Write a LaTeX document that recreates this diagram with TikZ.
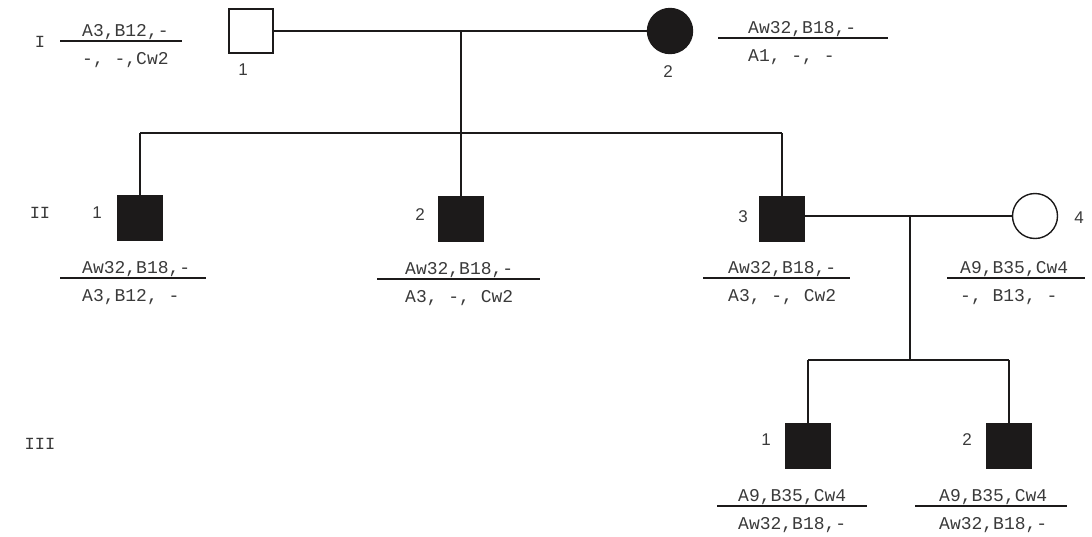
\documentclass[tikz,border=0pt]{standalone}
\usepackage{fontspec}
\setmonofont{Liberation Mono}
\setsansfont{Liberation Sans}
\usetikzlibrary{calc}
\definecolor{ink}{HTML}{1C1A1A}
\definecolor{txt}{HTML}{3A3A3A}
\tikzset{
  male/.style={draw=ink, line width=1.4pt, minimum size=44pt, inner sep=0pt, shape=rectangle},
  female/.style={draw=ink, line width=1.4pt, minimum size=45pt, inner sep=0pt, shape=circle},
  affected/.style={fill=ink},
  link/.style={draw=ink, line width=1.3pt},
  genoline/.style={draw=ink, line width=1.6pt},
  gtext/.style={font=\ttfamily\fontsize{18}{18}\selectfont, text=txt, inner sep=0pt, anchor=base west},
  num/.style={font=\sffamily\fontsize{17}{17}\selectfont, text=txt, inner sep=0pt},
  gen/.style={font=\ttfamily\fontsize{17}{17}\selectfont, text=txt, inner sep=0pt}
}
% genotype bar: id, x-left, x-right, y of bar, text start, upper haplotype, lower haplotype
\newcommand{\genotype}[7]{%
  \coordinate (#1-l) at (#2,#4);
  \coordinate (#1-r) at (#3,#4);
  \draw[genoline] (#1-l) -- (#1-r);
  \node[gtext] (#1-top) at (#5,#4-5) {#6};
  \node[gtext] (#1-bot) at (#5,#4+23) {#7};
}
\begin{document}
\begin{tikzpicture}[x=1pt,y=-1pt]
\useasboundingbox (0,0) rectangle (1092,536);

% generation labels
\node[gen] (gI) at (40,42) {I};
\node[gen] (gII) at (40,213) {II};
\node[gen] (gIII) at (40,444) {III};

% generation I
\node[male] (i1) at (251,31) {};
\node[female, affected] (i2) at (670,31) {};
\node[num] (i1n) at (243,70) {1};
\node[num] (i2n) at (668,72) {2};

% generation II
\node[male, affected] (ii1) at (140,218) {};
\node[male, affected] (ii2) at (461,219) {};
\node[male, affected] (ii3) at (782,219) {};
\node[female] (ii4) at (1035,216) {};
\node[num] (ii1n) at (97,213) {1};
\node[num] (ii2n) at (420,215) {2};
\node[num] (ii3n) at (743,217) {3};
\node[num] (ii4n) at (1079,218) {4};

% generation III
\node[male, affected] (iii1) at (808,446) {};
\node[male, affected] (iii2) at (1009,446) {};
\node[num] (iii1n) at (766,440) {1};
\node[num] (iii2n) at (967,440) {2};

% marriage and descent lines
\coordinate (m1) at (461,31);
\coordinate (s1) at (461,133);
\coordinate (s1l) at (140,133);
\coordinate (s1r) at (782,133);
\draw[link] (i1.east) -- (i2.west);
\draw[link] (m1) -- (s1);
\draw[link] (s1l) -- (s1r);
\draw[link] (s1l) -- (ii1.north);
\draw[link] (s1) -- (ii2.north);
\draw[link] (s1r) -- (ii3.north);

\coordinate (m2) at (910,216);
\coordinate (s2) at (910,360);
\coordinate (s2l) at (808,360);
\coordinate (s2r) at (1009,360);
\draw[link] (ii3.east |- m2) -- (ii4.west);
\draw[link] (m2) -- (s2);
\draw[link] (s2l) -- (s2r);
\draw[link] (s2l) -- (iii1.north);
\draw[link] (s2r) -- (iii2.north);

% HLA haplotypes
\genotype{hi1}{60}{182}{41}{82}{A3,B12,-}{-, -,Cw2}
\genotype{hi2}{718}{888}{38}{748}{Aw32,B18,-}{A1, -, -}
\genotype{hii1}{60}{206}{278}{82}{Aw32,B18,-}{A3,B12, -}
\genotype{hii2}{377}{540}{279}{405}{Aw32,B18,-}{A3, -, Cw2}
\genotype{hii3}{703}{850}{278}{728}{Aw32,B18,-}{A3, -, Cw2}
\genotype{hii4}{947}{1085}{278}{960}{A9,B35,Cw4}{-, B13, -}
\genotype{hiii1}{717}{867}{506}{738}{A9,B35,Cw4}{Aw32,B18,-}
\genotype{hiii2}{915}{1067}{506}{939}{A9,B35,Cw4}{Aw32,B18,-}
\end{tikzpicture}
\end{document}
